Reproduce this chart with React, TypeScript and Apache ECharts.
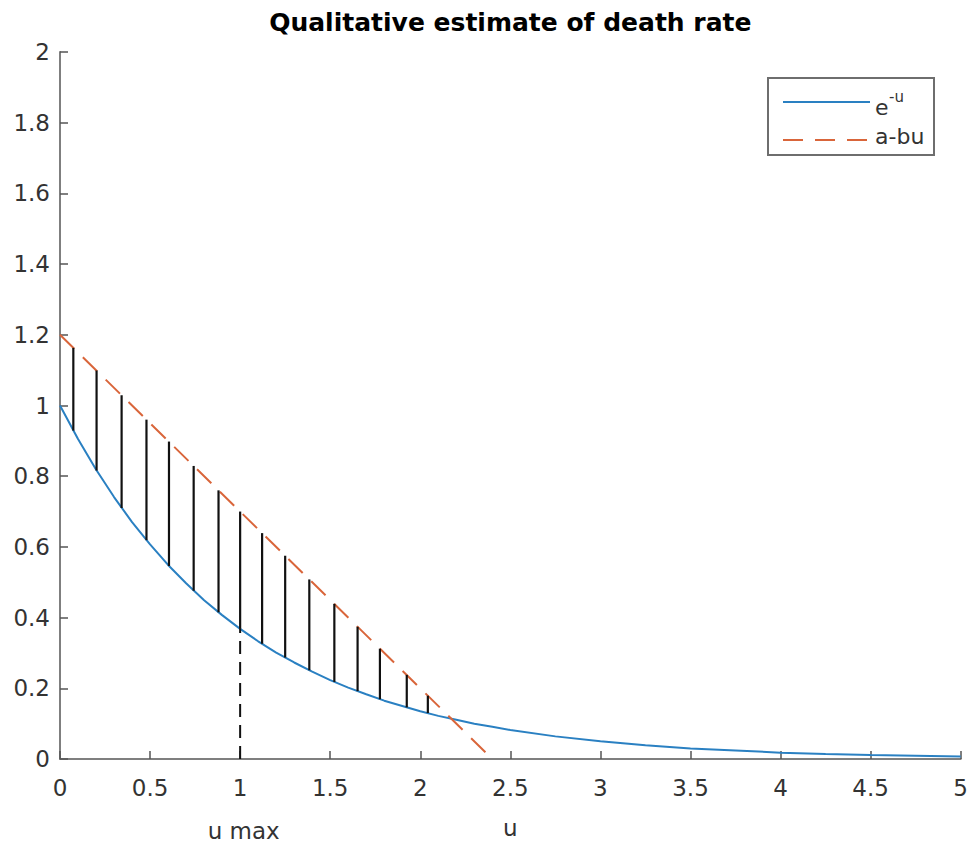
import React, { useEffect, useRef } from "react";
import * as echarts from "echarts";

// e^-u curve
const curveU = [0, 0.1, 0.2, 0.3, 0.4, 0.5, 0.6, 0.7, 0.8, 0.9, 1.0, 1.1, 1.2, 1.3, 1.4, 1.5, 1.6, 1.7, 1.8, 1.9, 2.0, 2.1, 2.2, 2.3, 2.4, 2.5, 2.75, 3.0, 3.25, 3.5, 3.75, 4.0, 4.25, 4.5, 4.75, 5.0];
const curveV = [1.0, 0.905, 0.819, 0.741, 0.67, 0.607, 0.549, 0.497, 0.449, 0.407, 0.368, 0.333, 0.301, 0.273, 0.247, 0.223, 0.202, 0.183, 0.165, 0.15, 0.135, 0.122, 0.111, 0.1, 0.091, 0.082, 0.064, 0.05, 0.039, 0.03, 0.024, 0.018, 0.014, 0.011, 0.009, 0.007];

// a - b u line
const lineU = [0, 2.4];
const lineV = [1.2, 0];

// vertical stems between the curves
const stemU = [0.074, 0.203, 0.342, 0.48, 0.605, 0.742, 0.88, 1.0, 1.122, 1.25, 1.384, 1.523, 1.652, 1.776, 1.925, 2.042];
const stemLow = [0.929, 0.816, 0.71, 0.619, 0.546, 0.476, 0.415, 0.368, 0.326, 0.287, 0.251, 0.218, 0.192, 0.169, 0.146, 0.13];
const stemHigh = [1.163, 1.099, 1.029, 0.96, 0.898, 0.829, 0.76, 0.7, 0.639, 0.575, 0.508, 0.439, 0.374, 0.312, 0.238, 0.179];

// u max marker
const uMax = 1;
const uMaxTop = 0.368;

const titleText = "Qualitative estimate of death rate";
const legendNames = ["e", "-u", "a-bu"];
const uMaxLabel = "u max";
const xName = "u";

const FONT = "DejaVu Sans";
const AXIS_GRAY = "#7f7f7f";
const BLUE = "#2a80c2";
const ORANGE = "#d9653a";

export default function App() {
  const ref = useRef<HTMLDivElement>(null);
  useEffect(() => {
    if (!ref.current) return;
    const chart = echarts.init(ref.current, undefined, { renderer: "svg" });
    const option: any = {
      animation: false,
      backgroundColor: "#ffffff",
      grid: { left: 60, right: 10, top: 52, bottom: 80, containLabel: false },
      xAxis: {
        type: "value",
        min: 0,
        max: 5,
        interval: 0.5,
        name: xName,
        nameLocation: "middle",
        nameGap: 57,
        nameTextStyle: { fontFamily: FONT, fontSize: 23, color: "#333" },
        axisLine: { show: true, onZero: false, lineStyle: { color: AXIS_GRAY, width: 2 } },
        axisTick: { show: true, inside: true, length: 8, lineStyle: { color: "#555", width: 1.5 } },
        axisLabel: { fontFamily: FONT, fontSize: 23, color: "#333", margin: 17 },
        splitLine: { show: false },
      },
      yAxis: {
        type: "value",
        min: 0,
        max: 2,
        interval: 0.2,
        axisLine: { show: true, onZero: false, lineStyle: { color: AXIS_GRAY, width: 2 } },
        axisTick: { show: true, inside: true, length: 8, lineStyle: { color: "#555", width: 1.5 } },
        axisLabel: { fontFamily: FONT, fontSize: 23, color: "#333", margin: 10 },
        splitLine: { show: false },
      },
      series: [
        {
          type: "line",
          name: "e^-u",
          data: curveU.map((u, i) => [u, curveV[i]]),
          showSymbol: false,
          lineStyle: { color: BLUE, width: 2 },
          z: 3,
        },
        {
          type: "line",
          name: "a-bu",
          data: lineU.map((u, i) => [u, lineV[i]]),
          showSymbol: false,
          lineStyle: { color: ORANGE, width: 2, type: [20, 12] },
          z: 3,
        },
        {
          type: "custom",
          name: "stems",
          data: stemU.map((u, i) => [u, stemLow[i], stemHigh[i]]),
          encode: { x: 0, y: [1, 2] },
          renderItem: (params: any, api: any) => {
            const x = api.value(0);
            const lo = api.coord([x, api.value(1)]);
            const hi = api.coord([x, api.value(2)]);
            return {
              type: "line",
              shape: { x1: lo[0], y1: lo[1], x2: hi[0], y2: hi[1] },
              style: { stroke: "#111", lineWidth: 2.2 },
            };
          },
          z: 4,
        },
        {
          type: "line",
          name: "umax",
          data: [[uMax, 0], [uMax, uMaxTop]],
          showSymbol: false,
          lineStyle: { color: "#111", width: 2, type: [13, 8] },
          z: 4,
        },
      ],
    };
    chart.setOption(option);

    const xTitle = (chart.convertToPixel({ gridIndex: 0 }, [2.5, 2]) as number[])[0];
    const xUmax = (chart.convertToPixel({ gridIndex: 0 }, [0.82, 0]) as number[])[0];

    chart.setOption({
      graphic: [
        {
          type: "text",
          x: xTitle,
          y: 22,
          style: {
            text: titleText,
            fontFamily: FONT,
            fontWeight: "bold",
            fontSize: 25,
            fill: "#000",
            align: "center",
            verticalAlign: "middle",
          },
        },
        {
          type: "text",
          x: xUmax,
          y: 831,
          style: {
            text: uMaxLabel,
            fontFamily: FONT,
            fontSize: 23,
            fill: "#333",
            align: "left",
            verticalAlign: "middle",
          },
        },
        {
          type: "group",
          x: 768,
          y: 78,
          children: [
            {
              type: "rect",
              shape: { x: 0, y: 0, width: 166, height: 77 },
              style: { fill: "#fff", stroke: "#6e6e6e", lineWidth: 2 },
            },
            {
              type: "line",
              shape: { x1: 15, y1: 24, x2: 102, y2: 24 },
              style: { stroke: BLUE, lineWidth: 2 },
            },
            {
              type: "text",
              x: 107,
              y: 29,
              style: { text: legendNames[0], fontFamily: FONT, fontSize: 22, fill: "#333", align: "left", verticalAlign: "middle" },
            },
            {
              type: "text",
              x: 121,
              y: 19,
              style: { text: legendNames[1], fontFamily: FONT, fontSize: 15, fill: "#333", align: "left", verticalAlign: "middle" },
            },
            {
              type: "line",
              shape: { x1: 15, y1: 62, x2: 102, y2: 62 },
              style: { stroke: ORANGE, lineWidth: 2, lineDash: [20, 12] },
            },
            {
              type: "text",
              x: 107,
              y: 58,
              style: { text: legendNames[2], fontFamily: FONT, fontSize: 22, fill: "#333", align: "left", verticalAlign: "middle" },
            },
          ],
        },
      ],
    });

    return () => chart.dispose();
  }, []);
  return (
    <div
      ref={ref}
      style={{ position: "absolute", left: 0, top: 0, width: 971, height: 844, background: "#fff" }}
    />
  );
}
